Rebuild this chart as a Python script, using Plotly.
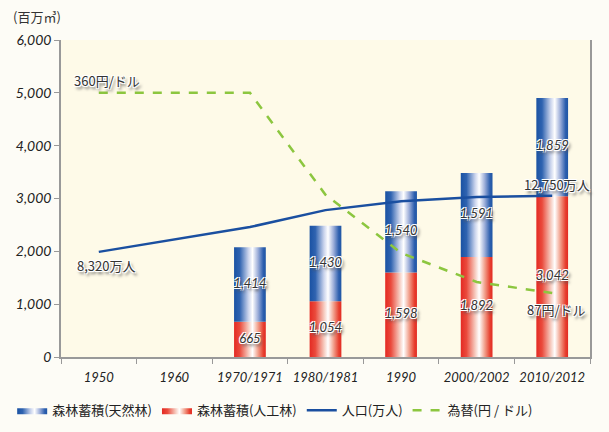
import plotly.graph_objects as go

categories = ["1950", "1960", "1970/1971", "1980/1981", "1990", "2000/2002", "2010/2012"]
natural = [None, None, 1414, 1430, 1540, 1591, 1859]      # 森林蓄積(天然林)
planted = [None, None, 665, 1054, 1598, 1892, 3042]       # 森林蓄積(人工林)
population_scaled = [1990, 2220, 2460, 2780, 2950, 3030, 3050]  # 人口(万人) on chart scale
exchange_scaled = [5000, 5000, 5000, 3070, 1970, 1420, 1210]    # 為替(円/ドル) on chart scale
yticks = [0, 1000, 2000, 3000, 4000, 5000, 6000]

BW = 0.21
FONT = "Lato, 'Noto Sans CJK JP', sans-serif"
JFONT = "'Noto Sans CJK JP', sans-serif"
SHADOW = "1px 1px 0 #fff, -1px -1px 0 #fff, 1px -1px 0 #fff, -1px 1px 0 #fff, 2px 3px 3px #555"

blue_scale = [[0, "#1a52a3"], [0.18, "#2f63b0"], [0.45, "#c9d3ec"], [0.58, "#ffffff"],
              [0.75, "#9fb0da"], [0.92, "#2d5fae"], [1, "#1f56a5"]]
red_scale = [[0, "#e42a23"], [0.18, "#ea4a3c"], [0.45, "#f6c9bd"], [0.58, "#ffffff"],
             [0.75, "#f2a38f"], [0.92, "#e7402f"], [1, "#e22a22"]]

fig = go.Figure()

def bar_poly(i, base, top, scale, name, show, group, rank):
    x0, x1 = i - BW, i + BW
    fig.add_trace(go.Scatter(
        x=[x0, x0, x1, x1, x0], y=[base, top, top, base, base],
        fill="toself", mode="lines", line=dict(width=0),
        fillgradient=dict(type="horizontal", colorscale=scale, start=x0, stop=x1),
        name=name, legendgroup=group, showlegend=show, legendrank=rank, hoverinfo="skip"))

first_b = True
first_r = True
for i, (p, n) in enumerate(zip(planted, natural)):
    if p is None:
        continue
    bar_poly(i, 0, p, red_scale, "森林蓄積(人工林)", first_r, "r", 2)
    first_r = False

for i, (p, n) in enumerate(zip(planted, natural)):
    if p is None:
        continue
    bar_poly(i, p, p + n, blue_scale, "森林蓄積(天然林)", first_b, "b", 1)
    first_b = False

xs = list(range(len(categories)))
fig.add_trace(go.Scatter(x=xs, y=population_scaled, mode="lines", name="人口(万人)",
                         line=dict(color="#1a4fa0", width=2.5), legendrank=3))
fig.add_trace(go.Scatter(x=xs, y=exchange_scaled, mode="lines", name="為替(円 / ドル)",
                         line=dict(color="#8cc63f", width=2.5, dash="dash"), legendrank=4))

# bar value labels
lx, ly, lt = [], [], []
for i, (p, n) in enumerate(zip(planted, natural)):
    if p is None:
        continue
    lx += [i, i]
    ly += [p / 2, p + n / 2]
    lt += [f"{p:,}", f"{n:,}"]
fig.add_trace(go.Scatter(x=lx, y=ly, text=lt, mode="text", showlegend=False, hoverinfo="skip",
                         textfont=dict(family=FONT, size=13, color="#333", style="italic",
                                       shadow=SHADOW)))

ann = [
    (0, exchange_scaled[0], "360円/ドル", -0.36, 12),
    (0, population_scaled[0], "8,320万人", -0.32, -14),
    (6, population_scaled[6], "12,750万人", -0.40, 11),
    (6, exchange_scaled[6], "87円/ドル", -0.36, -16),
]
for x, y, t, dx, dy in ann:
    fig.add_annotation(x=x + dx, y=y, text=t, showarrow=False, xanchor="left", yshift=dy,
                       font=dict(family=JFONT, size=13, color="#333", shadow=SHADOW))

fig.add_annotation(x=0, y=1.0, xref="paper", yref="paper", xshift=-50, yshift=12,
                   text="(百万㎥)", showarrow=False, xanchor="left", yanchor="bottom",
                   font=dict(family=JFONT, size=13, color="#333"))

fig.update_layout(
    width=609, height=432,
    margin=dict(l=61, r=19, t=40, b=75, autoexpand=False),
    paper_bgcolor="#fdfcf6", plot_bgcolor="#fefae8",
    showlegend=True,
    legend=dict(orientation="h", x=0.02, xref="container", xanchor="left",
                y=0.05, yref="container", yanchor="middle",
                font=dict(family=JFONT, size=13, color="#222"), traceorder="normal",
                itemwidth=30, bgcolor="rgba(0,0,0,0)"),
    xaxis=dict(range=[-0.5, 6.5], tickvals=xs, ticktext=categories, ticks="",
               showgrid=False, zeroline=False, showline=True, linecolor="#999", linewidth=1.5,
               ticklabelstandoff=8,
               tickfont=dict(family=FONT, size=13, color="#222", style="italic"),
               minor=dict(ticks="outside", tick0=-0.5, dtick=1, ticklen=5, tickcolor="#999",
                          showgrid=False)),
    yaxis=dict(range=[0, 6000], tickvals=yticks, ticktext=[f"{v:,}" for v in yticks],
               ticks="outside", ticklen=5, tickcolor="#999", showgrid=False, zeroline=False,
               showline=True, linecolor="#999", linewidth=1.5, mirror=True,
               tickfont=dict(family=FONT, size=14, color="#222", style="italic")),
)

fig.write_html("out.html")
